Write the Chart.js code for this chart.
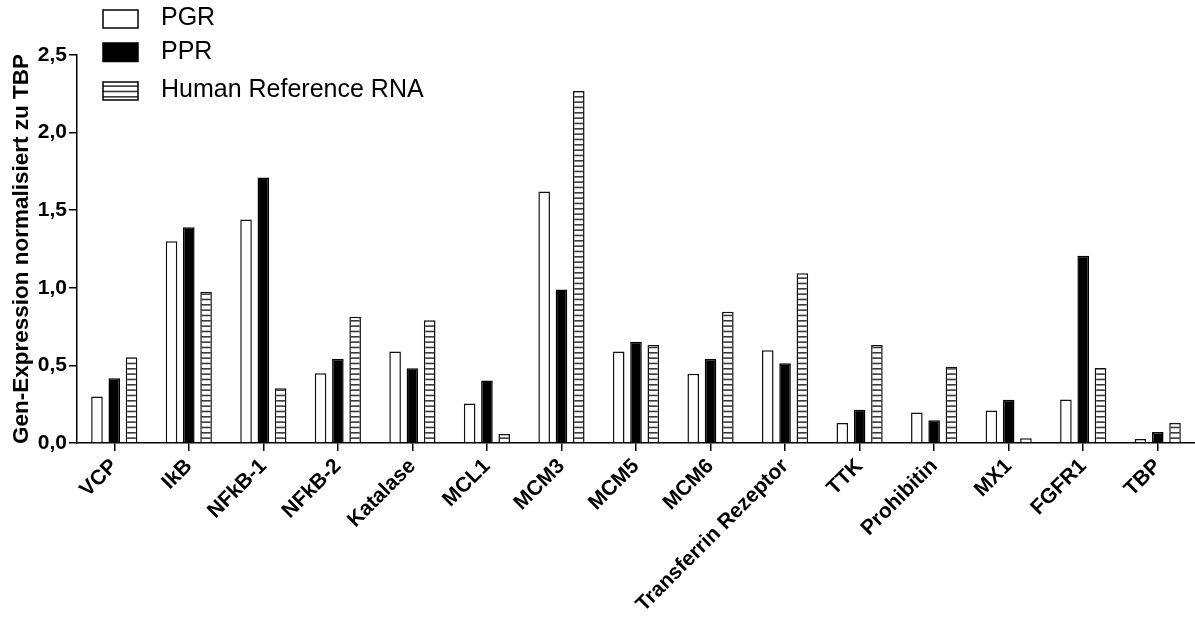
<!DOCTYPE html>
<html>
<head>
<meta charset="utf-8">
<script src="https://cdn.jsdelivr.net/npm/chart.js@4.4.1/dist/chart.umd.min.js"></script>
<style>
  html, body { margin: 0; padding: 0; background: #fff; }
  #wrap { width: 1195px; height: 618px; }
</style>
</head>
<body>
<div id="wrap"><canvas id="chart"></canvas></div>
<script>
// values
const categories = ['VCP', 'IkB', 'NFkB-1', 'NFkB-2', 'Katalase', 'MCL1', 'MCM3', 'MCM5', 'MCM6',
  'Transferrin Rezeptor', 'TTK', 'Prohibitin', 'MX1', 'FGFR1', 'TBP'];
const seriesNames = ['PGR', 'PPR', 'Human Reference RNA'];
const pgr = [0.30, 1.30, 1.44, 0.45, 0.59, 0.255, 1.62, 0.59, 0.447, 0.597, 0.129, 0.197, 0.21, 0.281, 0.026];
const ppr = [0.417, 1.39, 1.71, 0.542, 0.481, 0.402, 0.989, 0.652, 0.542, 0.514, 0.215, 0.146, 0.279, 1.206, 0.071];
const hrr = [0.552, 0.974, 0.352, 0.813, 0.791, 0.058, 2.268, 0.632, 0.845, 1.094, 0.632, 0.492, 0.03, 0.484, 0.129];
const yTicks = [0, 0.5, 1.0, 1.5, 2.0, 2.5];

const FONT = "'Liberation Sans', Arial, Helvetica, sans-serif";

// horizontal hatch fill for the reference RNA bars
const makeHatch = () => {
  const c = document.createElement('canvas');
  c.width = 16; c.height = 16;
  const g = c.getContext('2d');
  g.fillStyle = '#fff';
  g.fillRect(0, 0, 16, 16);
  g.fillStyle = '#3a3a3a';
  [0, 5.33, 10.67].forEach(y => g.fillRect(0, y, 16, 1.6));
  return g.createPattern(c, 'repeat');
};
const hatch = makeHatch();

// legend drawn above the plot, top left
const legendPlugin = {
  id: 'topLegend',
  afterDraw(chart) {
    const ctx = chart.ctx;
    const rows = [
      { box: [103, 10, 35, 18], ty: 18 },
      { box: [103, 43, 35, 18.5], ty: 52 },
      { box: [103, 82, 35, 18], ty: 90.5 }
    ];
    ctx.save();
    chart.data.datasets.forEach((ds, i) => {
      const [x, y, w, h] = rows[i].box;
      ctx.fillStyle = ds.backgroundColor;
      ctx.fillRect(x, y, w, h);
      ctx.lineWidth = 1.5;
      ctx.strokeStyle = '#000';
      ctx.strokeRect(x, y, w, h);
      ctx.fillStyle = '#000';
      ctx.font = '25px ' + FONT;
      ctx.textBaseline = 'middle';
      ctx.textAlign = 'left';
      ctx.fillText(ds.label, 161, rows[i].ty);
    });
    ctx.restore();
  }
};

const fmt = v => v.toFixed(1).replace('.', ',');

new Chart(document.getElementById('chart'), {
  type: 'bar',
  data: {
    labels: categories,
    datasets: [
      { label: seriesNames[0], data: pgr, backgroundColor: '#fff', borderColor: '#111', borderWidth: 1.5 },
      { label: seriesNames[1], data: ppr, backgroundColor: '#000', borderColor: '#000', borderWidth: 1.5 },
      { label: seriesNames[2], data: hrr, backgroundColor: hatch, borderColor: '#111', borderWidth: 1.5 }
    ]
  },
  options: {
    responsive: true,
    maintainAspectRatio: false,
    animation: false,
    devicePixelRatio: 1,
    categoryPercentage: 0.696,
    barPercentage: 0.67,
    layout: { padding: { top: 55, right: -8, left: 0, bottom: 0 } },
    plugins: { legend: { display: false }, tooltip: { enabled: false } },
    scales: {
      x: {
        grid: { display: true, drawOnChartArea: false, offset: false, color: '#000', lineWidth: 1.5, tickLength: 8 },
        border: { display: true, color: '#000', width: 1.5 },
        ticks: {
          autoSkip: false, maxRotation: 45, minRotation: 45, padding: 3, color: '#000',
          font: { family: FONT, size: 21, weight: 'bold' }
        },
        afterFit: s => { s.height = 175; }
      },
      y: {
        min: 0, max: 2.5,
        afterBuildTicks: s => { s.ticks = yTicks.map(v => ({ value: v })); },
        grid: { display: true, drawOnChartArea: false, color: '#000', lineWidth: 1.5, tickLength: 8 },
        border: { display: true, color: '#000', width: 1.5 },
        ticks: { padding: 2, color: '#000', callback: v => fmt(v), font: { family: FONT, size: 21, weight: 'bold' } },
        title: {
          display: true, text: 'Gen-Expression normalisiert zu TBP', color: '#000',
          font: { family: FONT, size: 22.5, weight: 'bold' }, padding: { top: 8, bottom: 0 }
        },
        afterFit: s => { s.width = 77; }
      }
    }
  },
  plugins: [legendPlugin]
});
</script>
</body>
</html>
